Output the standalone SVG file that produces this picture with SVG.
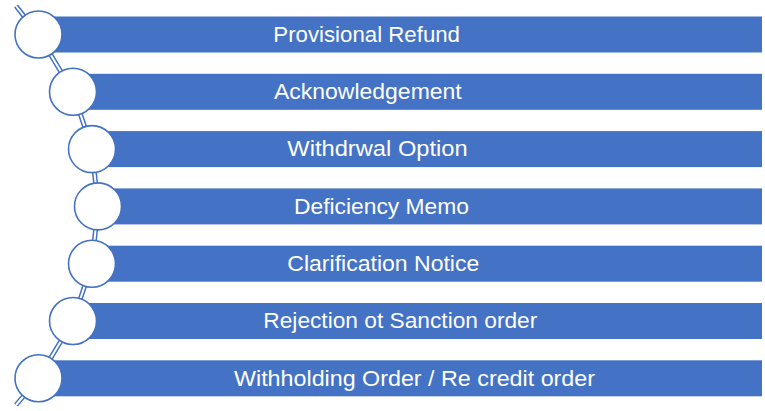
<svg xmlns="http://www.w3.org/2000/svg" width="765" height="411" viewBox="0 0 765 411">
<style>
.bar{fill:#4472C4;}
.node circle{fill:#ffffff;stroke:#4472C4;stroke-width:1.6;}
.lbl{fill:#ffffff;font-family:"Liberation Sans",Arial,sans-serif;font-size:21.5px;}
.outer{fill:none;stroke:#4472C4;stroke-width:5;stroke-linejoin:round;}
.inner{fill:none;stroke:#ffffff;stroke-width:2;stroke-linejoin:round;}
</style>
<rect width="765" height="411" fill="#ffffff"/>
<g id="bars">
<rect class="bar" x="38" y="16.5" width="724" height="36"/>
<rect class="bar" x="73" y="73.8" width="689" height="36"/>
<rect class="bar" x="92" y="131.1" width="670" height="36"/>
<rect class="bar" x="98" y="188.4" width="664" height="36"/>
<rect class="bar" x="92" y="245.7" width="670" height="36"/>
<rect class="bar" x="73" y="303" width="689" height="36"/>
<rect class="bar" x="38" y="360.3" width="724" height="36"/>
</g>
<g id="connectors">
<polyline class="outer" points="16,6 38.5,34.5 73,91.8 92,149.1 98,206.4 92,263.7 73,321 38.5,378.3 16,405"/>
<polyline class="inner" points="16,6 38.5,34.5 73,91.8 92,149.1 98,206.4 92,263.7 73,321 38.5,378.3 16,405"/>
</g>
<g id="node1" class="node"><circle cx="38.5" cy="34.5" r="23.5"/><text class="lbl" x="273.3" y="42.3" textLength="186.7" lengthAdjust="spacingAndGlyphs">Provisional Refund</text></g>
<g id="node2" class="node"><circle cx="73" cy="91.8" r="23.5"/><text class="lbl" x="274" y="99.3" textLength="187.7" lengthAdjust="spacingAndGlyphs">Acknowledgement</text></g>
<g id="node3" class="node"><circle cx="92" cy="149.1" r="23.5"/><text class="lbl" x="287.3" y="156.3" textLength="180.4" lengthAdjust="spacingAndGlyphs">Withdrwal Option</text></g>
<g id="node4" class="node"><circle cx="98" cy="206.4" r="23.5"/><text class="lbl" x="294" y="213.7" textLength="175" lengthAdjust="spacingAndGlyphs">Deficiency Memo</text></g>
<g id="node5" class="node"><circle cx="92" cy="263.7" r="23.5"/><text class="lbl" x="287.3" y="270.9" textLength="192" lengthAdjust="spacingAndGlyphs">Clarification Notice</text></g>
<g id="node6" class="node"><circle cx="73" cy="321" r="23.5"/><text class="lbl" x="263.3" y="328.2" textLength="274" lengthAdjust="spacingAndGlyphs">Rejection ot Sanction order</text></g>
<g id="node7" class="node"><circle cx="38.5" cy="378.3" r="23.5"/><text class="lbl" x="234" y="385.5" textLength="361" lengthAdjust="spacingAndGlyphs">Withholding Order / Re credit order</text></g>
</svg>
